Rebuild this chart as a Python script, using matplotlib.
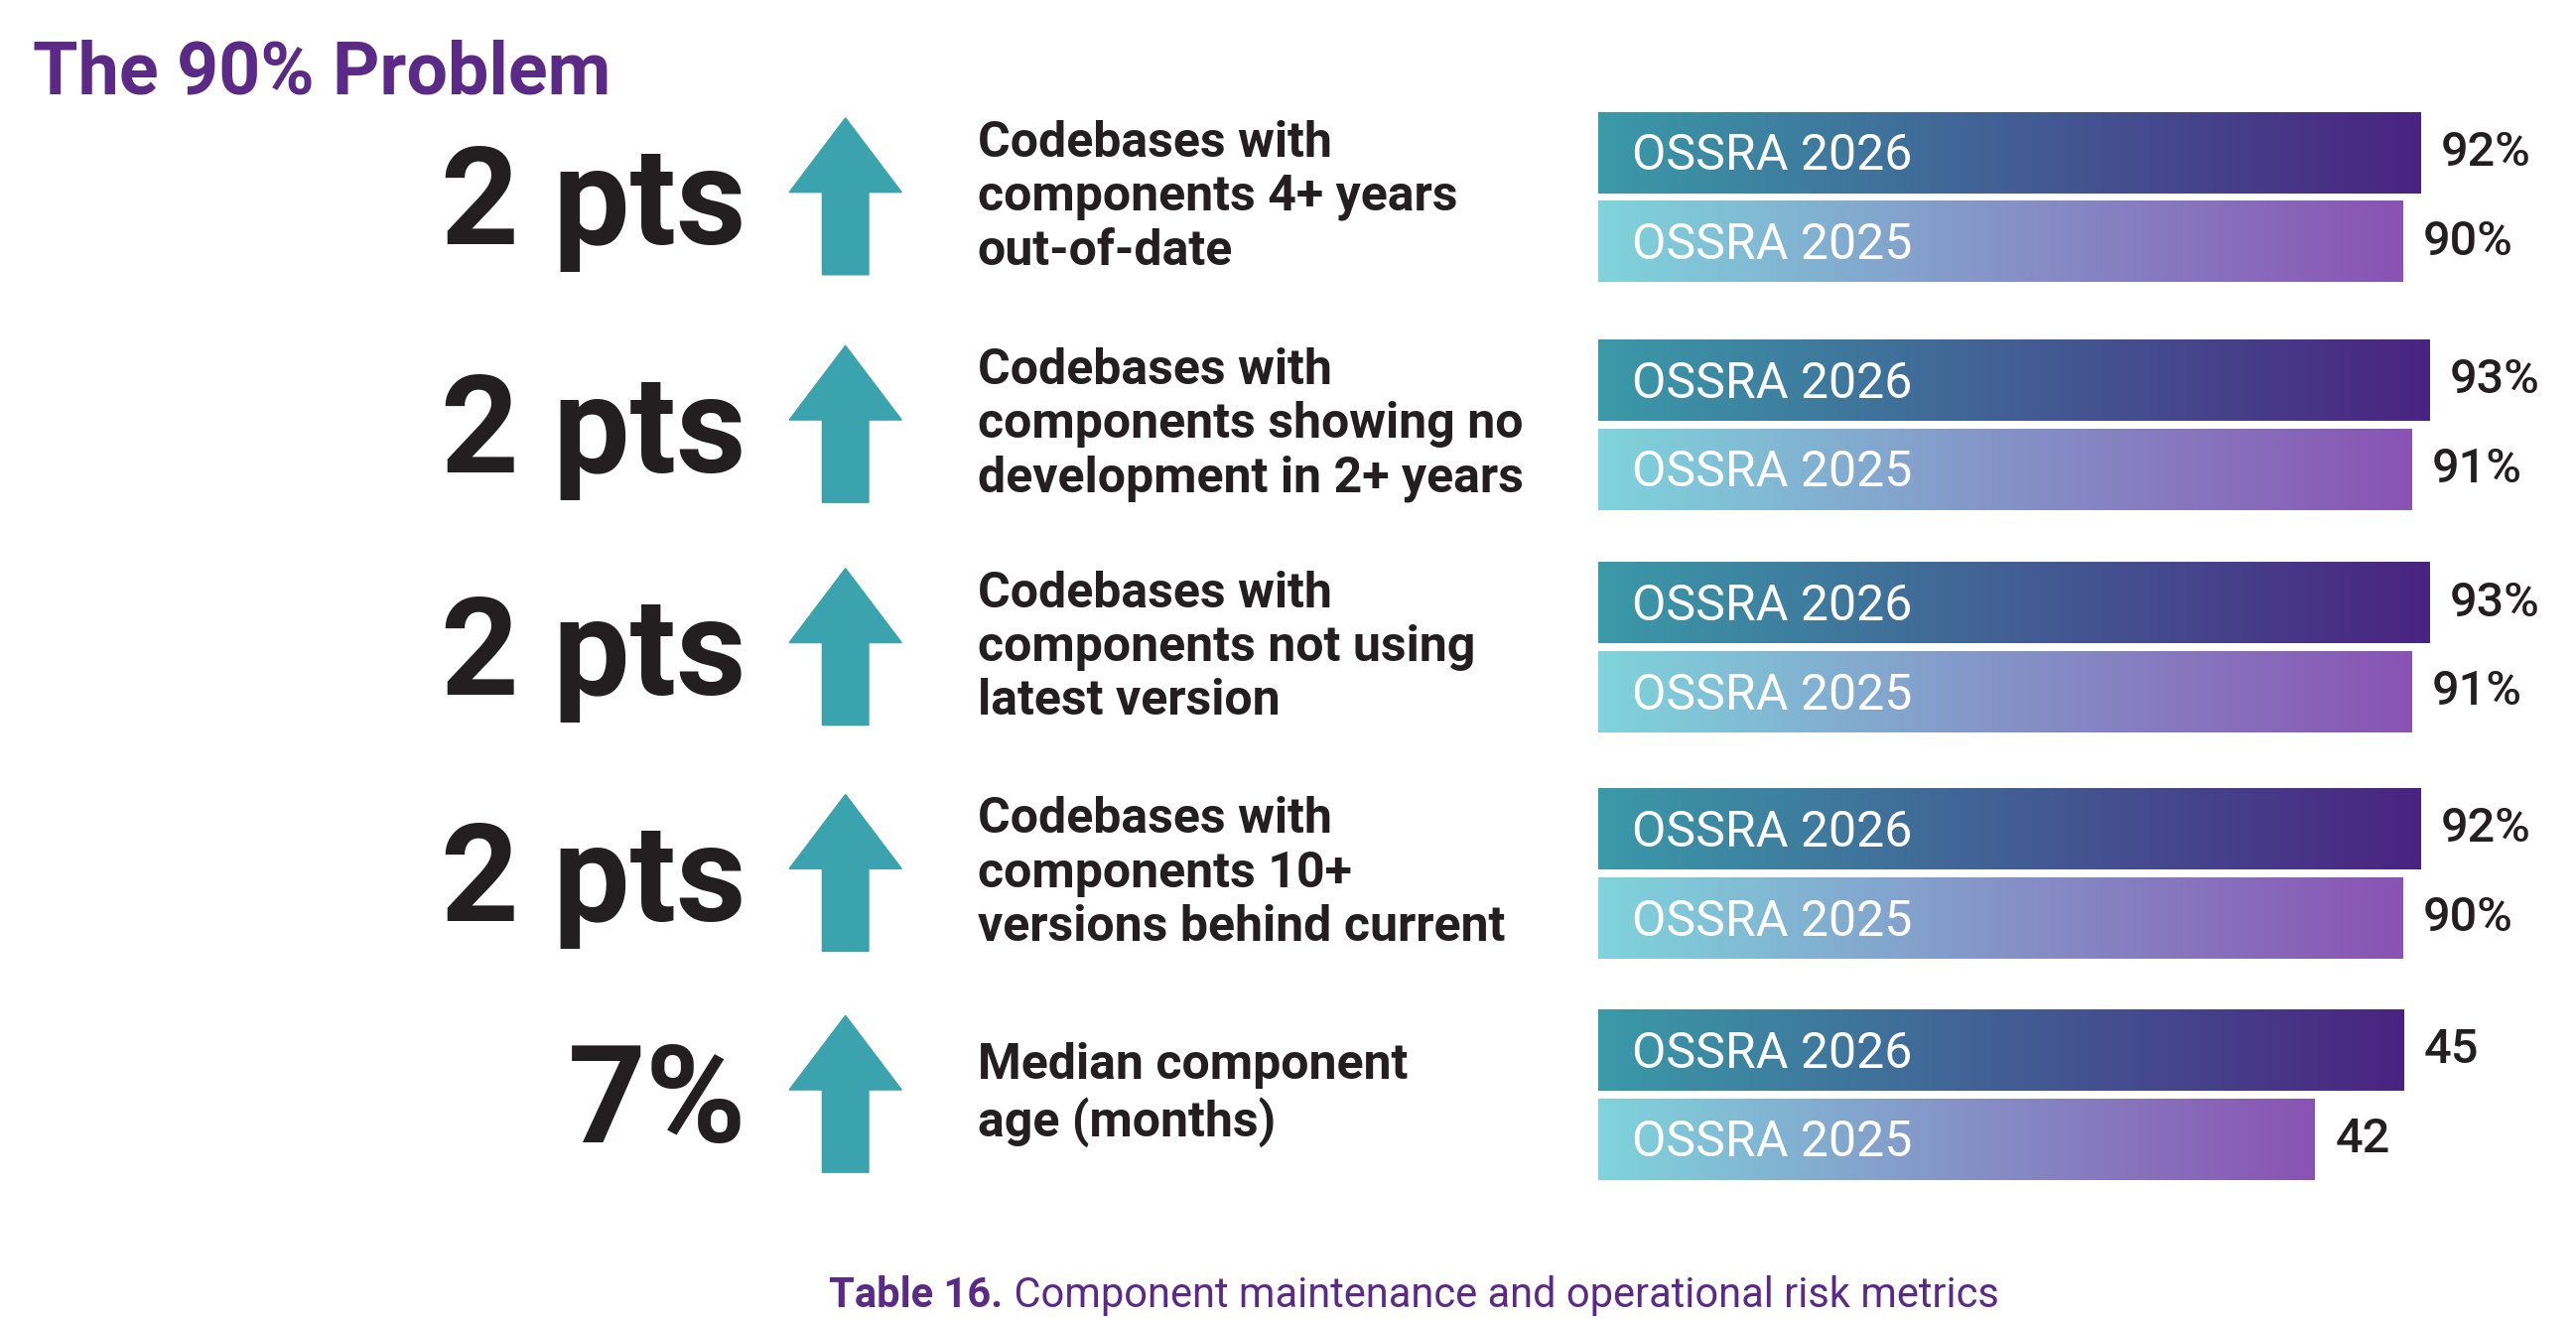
import numpy as np
import matplotlib.pyplot as plt
from matplotlib.patches import Polygon

plt.rcParams['font.family'] = ['Roboto', 'DejaVu Sans']

title = "The 90% Problem"
changes = ["2 pts", "2 pts", "2 pts", "2 pts", "7%"]
labels = ["Codebases with\ncomponents 4+ years\nout-of-date",
          "Codebases with\ncomponents showing no\ndevelopment in 2+ years",
          "Codebases with\ncomponents not using\nlatest version",
          "Codebases with\ncomponents 10+\nversions behind current",
          "Median component\nage (months)"]
v2026 = [92, 93, 93, 92, 45]
v2025 = [90, 91, 91, 90, 42]
units = ["%", "%", "%", "%", ""]
caption_bold = "Table 16."
caption = " Component maintenance and operational risk metrics"

purple = "#5b2a86"
teal = "#3ba3ae"
W, H = 1560, 800

fig = plt.figure(figsize=(25.95, 13.3), dpi=100)
ax = fig.add_axes([0, 0, 1, 1])
ax.set_xlim(0, W)
ax.set_ylim(H, 0)
ax.axis('off')

ax.text(20, 45, title, fontsize=53, fontweight='bold', color=purple, va='center', ha='left')

group_top = [68, 206, 341, 478, 612]
bar_h = 49
gap = 5
x0 = 968


def bar_end(v, unit):
    if unit == "%":
        return 1466 + (v - 92) * 5.5
    return 1456 + (v - 45) * 18


def hx(h):
    h = h.lstrip('#')
    return [int(h[i:i + 2], 16) / 255 for i in (0, 2, 4)]


def grad_bar(y, end, c1, c2):
    n = 256
    cols = np.array([np.linspace(a, b, n) for a, b in zip(c1, c2)]).T
    ax.imshow(cols[np.newaxis, :, :], extent=(x0, end, y + bar_h, y), aspect='auto', zorder=2)


for i, top in enumerate(group_top):
    cy = top + bar_h + gap / 2
    ax.text(452, cy + 6, changes[i], fontsize=99, fontweight='bold', color='#231f20',
            ha='right', va='center')
    at, ab = cy - 48, cy + 47
    cx = 512
    head = 45
    pts = [(cx, at), (cx + 34, at + head), (cx + 14, at + head), (cx + 14, ab),
           (cx - 14, ab), (cx - 14, at + head), (cx - 34, at + head)]
    ax.add_patch(Polygon(pts, closed=True, color=teal, zorder=2))
    ax.text(592, cy, labels[i], fontsize=36, fontweight='bold', color='#231f20',
            ha='left', va='center', linespacing=1.2)
    for v, y, c1, c2, yr in [
            (v2026[i], top, hx('#3a9aa8'), hx('#4a2381'), "OSSRA 2026"),
            (v2025[i], top + bar_h + gap, hx('#7fd4dc'), hx('#8a52b3'), "OSSRA 2025")]:
        end = bar_end(v, units[i])
        grad_bar(y, end, c1, c2)
        ax.text(988, y + bar_h / 2 + 2, yr, fontsize=36, color='white', ha='left', va='center', zorder=3)
        ax.text(end + 12, y + bar_h / 2, f"{v}{units[i]}", fontsize=35, color='#231f20',
                fontweight='medium', ha='left', va='center')

# caption centred as a whole, bold prefix + regular rest
fs = 30
probe = ax.text(0, 785, caption_bold + caption, fontsize=fs, alpha=0)
t = ax.text(0, 785, caption_bold, fontsize=fs, fontweight='bold', color=purple, ha='left', va='center')
fig.canvas.draw()
scale = W / fig.bbox.width
tw = probe.get_window_extent().width * scale
start = 855 - tw / 2
t.set_x(start)
bw = t.get_window_extent().width * scale
ax.text(start + bw, 785, caption, fontsize=fs, color=purple, ha='left', va='center')

fig.savefig("out.png", dpi=100)
